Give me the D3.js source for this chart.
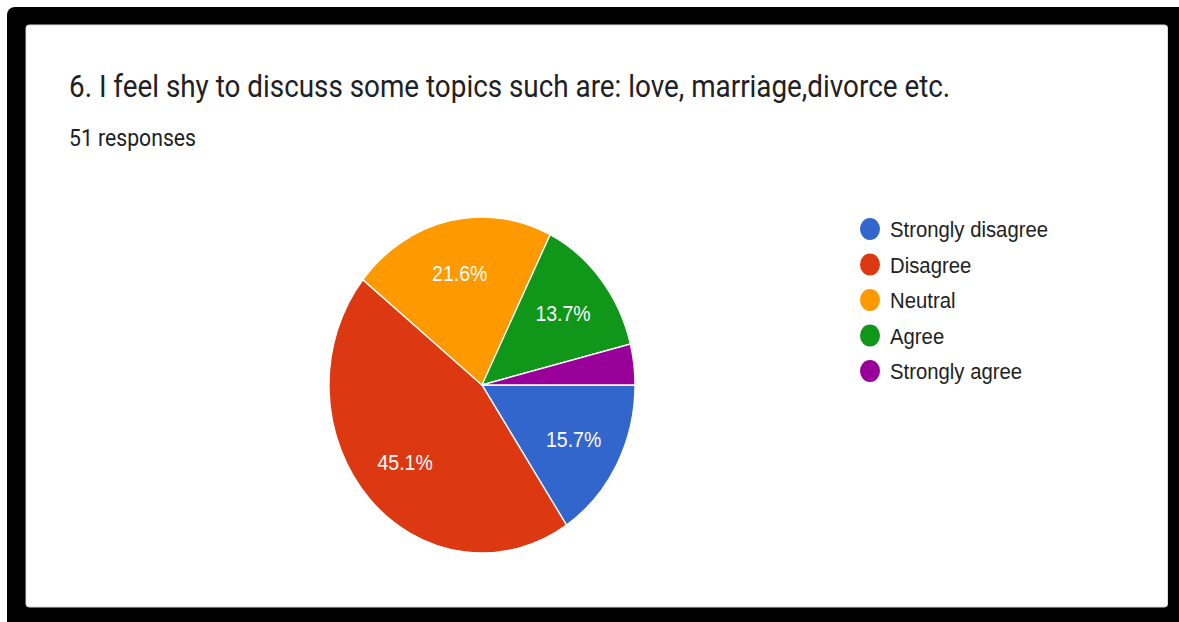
<!DOCTYPE html>
<html>
<head>
<meta charset="utf-8">
<script src="https://cdn.jsdelivr.net/npm/d3@7"></script>
<style>
  html, body { margin: 0; padding: 0; background: #ffffff; }
  svg { display: block; }
</style>
</head>
<body>
<svg id="chart" width="1179" height="622"></svg>
<script>
// Survey answers for question 6 (51 responses)
const categories = ["Strongly disagree", "Disagree", "Neutral", "Agree", "Strongly agree"];
const counts = [8, 23, 11, 7, 2];
const colors = ["#3366cc", "#dc3912", "#ff9900", "#109618", "#990099"];
const titleText = "6. I feel shy to discuss some topics such are: love, marriage,divorce etc.";
const responsesText = "51 responses";

const W = 1179, H = 622;
const svg = d3.select("#chart");
const yStretch = 1.098; // the whole card is drawn slightly taller than wide

// Black frame and white card
svg.append("rect").attr("x", 7).attr("y", 7).attr("width", W - 7 + 10).attr("height", H - 7 + 10)
  .attr("rx", 8).attr("fill", "#000");
svg.append("rect").attr("x", 26).attr("y", 25).attr("width", 1167.5 - 26).attr("height", 607 - 25)
  .attr("rx", 3).attr("fill", "#fff").attr("stroke", "#dadce0").attr("stroke-width", 1);

// Helper: scale a text's font size so it spans a given width
function fitText(sel, targetWidth) {
  const w = sel.node().getComputedTextLength();
  const fs = parseFloat(sel.attr("font-size"));
  sel.attr("font-size", fs * targetWidth / w);
}

const title = svg.append("text")
  .attr("transform", `translate(69,97) scale(1,${yStretch})`)
  .attr("font-family", "Roboto, 'Open Sans', sans-serif")
  .attr("font-size", 24)
  .attr("fill", "#202124")
  .text(titleText);
fitText(title, 881);

const resp = svg.append("text")
  .attr("transform", `translate(69,146) scale(1,${yStretch})`)
  .attr("font-family", "Roboto, sans-serif")
  .attr("font-size", 17)
  .attr("fill", "#202124")
  .text(responsesText);
fitText(resp, 127);

// Pie, starting at 3 o'clock and running clockwise
const total = d3.sum(counts);
const data = categories.map((c, i) => ({ name: c, value: counts[i], color: colors[i] }));
const radius = 153;
const pie = d3.pie().value(d => d.value).sort(null)
  .startAngle(Math.PI / 2).endAngle(Math.PI / 2 + 2 * Math.PI);
const arc = d3.arc().innerRadius(0).outerRadius(radius);
const labelArc = d3.arc().innerRadius(radius * 0.68).outerRadius(radius * 0.68);

const pieG = svg.append("g").attr("transform", `translate(482,385) scale(1,${yStretch})`);
const arcs = pie(data);
pieG.selectAll("path.slice").data(arcs).join("path")
  .attr("class", "slice")
  .attr("d", arc)
  .attr("fill", d => d.data.color)
  .attr("stroke", "#fff")
  .attr("stroke-width", 1.3);

pieG.selectAll("text.pct").data(arcs.filter(d => d.data.value / total > 0.05)).join("text")
  .attr("class", "pct")
  .attr("x", d => labelArc.centroid(d)[0])
  .attr("y", d => labelArc.centroid(d)[1])
  .attr("dy", "0.36em")
  .attr("text-anchor", "middle")
  .attr("font-family", "Arial, 'Liberation Sans', sans-serif")
  .attr("font-size", 19.5)
  .attr("fill", "#fff")
  .text(d => (d.data.value / total * 100).toFixed(1) + "%");

// Legend
const legend = svg.append("g");
const rowY = d3.scaleLinear().domain([0, categories.length - 1]).range([229, 371]);
const rows = legend.selectAll("g.row").data(data).join("g")
  .attr("class", "row")
  .attr("transform", (d, i) => `translate(870,${rowY(i)})`);
rows.append("ellipse").attr("rx", 10).attr("ry", 10 * yStretch).attr("fill", d => d.color);
const legTexts = rows.append("text")
  .attr("transform", `translate(20,0) scale(1,${yStretch})`)
  .attr("dy", "0.36em")
  .attr("font-family", "Arial, 'Liberation Sans', sans-serif")
  .attr("font-size", 18)
  .attr("fill", "#222")
  .text(d => d.name);
// size legend text so "Strongly disagree" spans its width
const wFirst = legTexts.filter((d, i) => i === 0).node().getComputedTextLength();
legTexts.attr("font-size", 18 * 158 / wFirst);
</script>
</body>
</html>
